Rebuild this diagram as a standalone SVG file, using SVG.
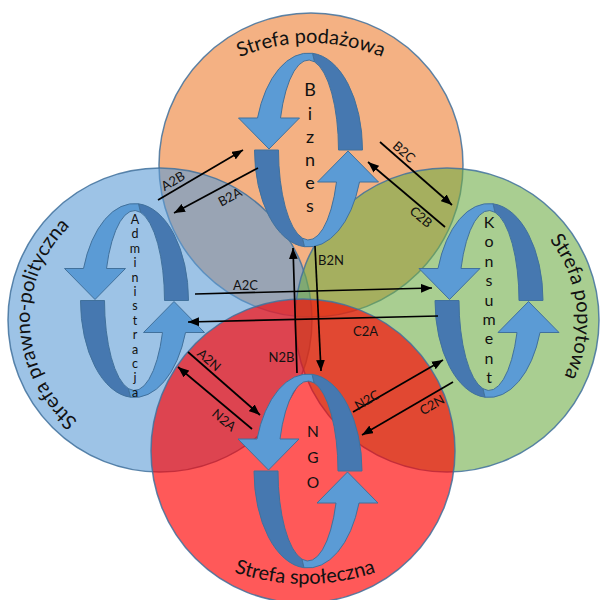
<svg xmlns="http://www.w3.org/2000/svg" xmlns:xlink="http://www.w3.org/1999/xlink" width="600" height="600" viewBox="0 0 600 600">
<style>
.zone{stroke:#41719C;stroke-width:1.5;stroke-opacity:0.85}
.lt{fill:#5B9BD5;stroke:#41719C;stroke-width:1}
.dk{fill:#4678B0;stroke:#41719C;stroke-width:1}
.zl{font-family:Lato,"Liberation Sans",sans-serif;font-size:20px;fill:#111}
.nl{font-family:Lato,"Liberation Sans",sans-serif;fill:#111;text-anchor:middle}
.cl{font-family:Lato,"Liberation Sans",sans-serif;font-size:13px;fill:#111;text-anchor:middle}
.cn line{stroke:#000;stroke-width:1.7;marker-end:url(#ah)}
</style>
<defs>
<marker id="ah" viewBox="0 0 10 8" refX="10" refY="4" markerWidth="11" markerHeight="9" markerUnits="userSpaceOnUse" orient="auto">
<path d="M0,0 L10,4 L0,8 Z" fill="#000"/>
</marker>
<g id="half">
<path class="dk" d="M 4,-96.7 A 54 97 0 0 1 54,0 L 30,0 A 30 90 0 0 0 6,-88.2 Z"/>
<path class="lt" d="M -28,-32 A 30 90 0 0 1 6,-88.2 L 4,-96.7 A 54 97 0 0 0 -51,-32 L -70,-32 L -39.5,-1 L -9,-32 Z"/>
</g>
<g id="loop">
<use xlink:href="#half" href="#half"/>
<use xlink:href="#half" href="#half" transform="rotate(180)"/>
</g>
<path id="pTop" d="M 126,228 A 185 185 0 0 1 496,228"/>
<path id="pBot" d="M 85,364 A 220 220 0 0 0 525,364"/>
<path id="pLeft" d="M 95,432.6 A 130 130 0 0 1 95,207.4"/>
<path id="pRight" d="M 512,207.4 A 130 130 0 0 1 512,432.6"/>
</defs>

<g id="zones">
<circle id="zone-podazowa" class="zone" cx="311" cy="165" r="152" fill="#ED7D31" fill-opacity="0.6"/>
<circle id="zone-prawno" class="zone" cx="160" cy="320" r="152" fill="#5B9BD5" fill-opacity="0.6"/>
<circle id="zone-popytowa" class="zone" cx="447" cy="320" r="152" fill="#70AD47" fill-opacity="0.6"/>
<circle id="zone-spoleczna" class="zone" cx="303" cy="451" r="152" fill="#FF0000" fill-opacity="0.65"/>
</g>

<g id="zone-labels">
<text class="zl"><textPath href="#pTop" xlink:href="#pTop" startOffset="50%" text-anchor="middle">Strefa podażowa</textPath></text>
<text class="zl"><textPath href="#pBot" xlink:href="#pBot" startOffset="50%" text-anchor="middle">Strefa społeczna</textPath></text>
<text class="zl"><textPath href="#pLeft" xlink:href="#pLeft" startOffset="131" text-anchor="middle">Strefa prawno-polityczna</textPath></text>
<text class="zl"><textPath href="#pRight" xlink:href="#pRight" startOffset="122" text-anchor="middle">Strefa popytowa</textPath></text>
</g>

<g id="node-biznes">
<use xlink:href="#loop" href="#loop" transform="translate(308.5,150)"/>
<text class="nl" font-size="18"><tspan x="310" y="96">B</tspan><tspan x="310" y="119.5">i</tspan><tspan x="310" y="142.7">z</tspan><tspan x="310" y="166">n</tspan><tspan x="310" y="189">e</tspan><tspan x="310" y="212">s</tspan></text>
</g>

<g id="node-administracja">
<use xlink:href="#loop" href="#loop" transform="translate(134.5,300.5)"/>
<text class="nl" font-size="12.5"><tspan x="135" y="224">A</tspan><tspan x="135" y="238.4">d</tspan><tspan x="135" y="252.8">m</tspan><tspan x="135" y="267.2">i</tspan><tspan x="135" y="281.6">n</tspan><tspan x="135" y="296">i</tspan><tspan x="135" y="310.4">s</tspan><tspan x="135" y="324.8">t</tspan><tspan x="135" y="339.2">r</tspan><tspan x="135" y="353.6">a</tspan><tspan x="135" y="368">c</tspan><tspan x="135" y="382.4">j</tspan><tspan x="135" y="396.8">a</tspan></text>
</g>

<g id="node-konsument">
<use xlink:href="#loop" href="#loop" transform="translate(489,300.5)"/>
<text class="nl" font-size="16"><tspan x="489" y="228">K</tspan><tspan x="489" y="247.4">o</tspan><tspan x="489" y="266.8">n</tspan><tspan x="489" y="286.2">s</tspan><tspan x="489" y="305.6">u</tspan><tspan x="489" y="325">m</tspan><tspan x="489" y="344.4">e</tspan><tspan x="489" y="363.8">n</tspan><tspan x="489" y="383.2">t</tspan></text>
</g>

<g id="node-ngo">
<use xlink:href="#loop" href="#loop" transform="translate(308,471)"/>
<text class="nl" font-size="15.5"><tspan x="313" y="437">N</tspan><tspan x="313" y="462.5">G</tspan><tspan x="313" y="487.5">O</tspan></text>
</g>

<g id="connectors" class="cn">
<line x1="158" y1="200" x2="243" y2="150"/>
<line x1="258" y1="168" x2="174" y2="213"/>
<line x1="380" y1="142" x2="452" y2="205"/>
<line x1="445" y1="227" x2="368" y2="162"/>
<line x1="195" y1="294" x2="432" y2="288"/>
<line x1="438" y1="316" x2="188" y2="322"/>
<line x1="315" y1="246" x2="321" y2="371"/>
<line x1="297" y1="373" x2="293" y2="248"/>
<line x1="188" y1="352" x2="260" y2="415"/>
<line x1="252" y1="429" x2="178" y2="367"/>
<line x1="353" y1="412" x2="443" y2="360"/>
<line x1="453" y1="382" x2="362" y2="435"/>
</g>

<g id="connector-labels">
<text class="cl" transform="translate(173,181) rotate(-30.5)" y="4.5">A2B</text>
<text class="cl" transform="translate(230,197) rotate(-28)" y="4.5">B2A</text>
<text class="cl" transform="translate(404,152) rotate(41)" y="4.5">B2C</text>
<text class="cl" transform="translate(421,217) rotate(40)" y="4.5">C2B</text>
<text class="cl" x="245.5" y="290">A2C</text>
<text class="cl" x="365.5" y="336">C2A</text>
<text class="cl" x="331" y="265">B2N</text>
<text class="cl" x="281.5" y="362">N2B</text>
<text class="cl" transform="translate(209,360) rotate(41)" y="4.5">A2N</text>
<text class="cl" transform="translate(224,420) rotate(40)" y="4.5">N2A</text>
<text class="cl" transform="translate(367,400) rotate(-30)" y="4.5">N2C</text>
<text class="cl" transform="translate(432,405) rotate(-30)" y="4.5">C2N</text>
</g>
</svg>
